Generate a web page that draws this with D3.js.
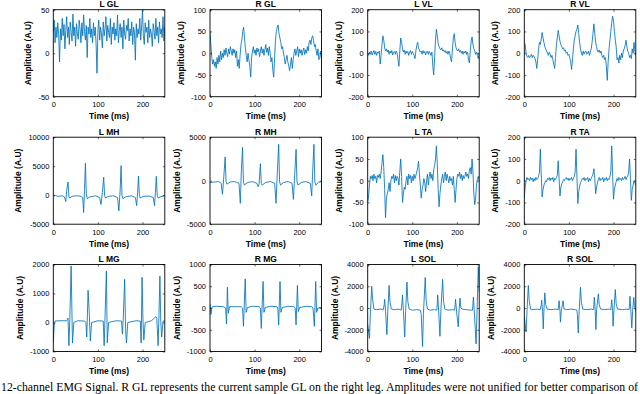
<!DOCTYPE html>
<html><head><meta charset="utf-8">
<script src="https://cdn.jsdelivr.net/npm/d3@7"></script>
<style>body{margin:0;background:#fff}svg{display:block}</style>
</head><body><svg id="c" width="640" height="394"></svg>
<script>
// ---- data (uniform series are sampled every 250/(n-1) ms; spiky series are [ms, value] pairs) ----
const titles = ["L GL","R GL","L VL","R VL","L MH","R MH","L TA","R TA","L MG","R MG","L SOL","R SOL"];
const xTicks = [0,100,200];
const yDomains = [[-50,50],[-100,100],[-200,200],[-200,200],[-5000,10000],[-5000,5000],[-100,100],[-200,200],[-1000,2000],[-1000,1000],[-4000,4000],[-4000,4000]];
const yTicks = [[-50,0,50],[-100,-50,0,50,100],[-200,-100,0,100,200],[-200,-100,0,100,200],[-5000,0,5000,10000],[-5000,0,5000],[-100,-50,0,50,100],[-200,-100,0,100,200],[-1000,0,1000,2000],[-1000,-500,0,500,1000],[-4000,-2000,0,2000,4000],[-4000,-2000,0,2000,4000]];

const lGL = [25,38,12,30,18,35,22,-10,28,15,40,20,33,5,26,42,18,30,10,36,24,14,45,20,30,8,34,22,16,38,28,12,35,20,44,25,15,32,-5,30,22,40,18,28,12,35,20,30,10,-23,26,38,15,30,22,6,36,20,28,42,14,32,24,18,40,10,30,22,35,15,28,20,44,12,26,34,18,30,5,38,22,16,32,26,40,14,28,20,36,10,30,24,-8,34,18,28,22,40,15,30,50,20,10,35,24,30,12,38,18,28,22,8,34,26,16,40,20,30,12,36,22,28,18,42,14,30];
const rGL = [48,20,-10,-25,-15,-30,-20,-35,-10,-25,-5,-20,5,-15,0,-10,8,-5,12,0,-8,10,-2,15,5,-5,10,0,8,-10,5,-30,-15,-35,-5,20,30,50,60,35,10,-5,-20,0,-15,-30,-55,-10,5,15,0,8,-5,12,3,10,-8,5,15,0,10,-5,8,20,2,12,-5,15,0,-20,-10,-40,-55,-10,30,50,60,65,45,35,25,10,15,0,-10,-25,-15,-5,-20,-30,-40,-25,-10,-35,-15,0,10,-5,5,15,-8,10,0,8,-5,5,12,-3,8,0,15,5,25,30,20,35,40,30,15,20,5,-5,10,-15,-10,5,-15];
const lVL = [0,-10,5,-5,10,-8,3,12,-5,8,-10,5,0,10,-50,-10,40,80,60,25,10,20,5,15,-5,10,0,12,-8,5,8,-5,10,0,-30,-60,10,70,50,20,5,15,-5,10,0,8,-10,5,12,-5,8,0,-10,-25,10,35,50,25,15,5,10,-5,12,0,8,-8,5,10,-5,8,0,-10,5,-60,-100,-20,60,110,80,45,30,20,15,25,10,15,5,12,0,8,-5,10,0,-25,-40,20,70,90,50,25,15,10,20,5,12,0,10,-5,8,0,10,-5,5,-30,-45,10,55,75,40,20,10,-5,5,-10,-25,0];
const rVL = [50,40,0,-15,-20,-10,-20,-15,-5,-20,-10,-15,-25,-40,-70,-30,20,50,40,65,95,70,50,30,20,10,0,-10,5,-5,-20,-10,-30,-50,-70,-20,40,70,105,80,55,40,30,20,25,10,15,0,5,-10,-5,-20,-40,-75,-30,20,60,80,100,110,130,90,50,20,0,-10,10,-5,5,10,-5,0,10,-10,5,20,50,90,135,90,50,30,10,5,15,0,10,-10,-20,-10,-30,-20,-60,-125,-40,20,60,100,140,170,150,100,60,30,-30,-20,-45,-10,-30,0,-20,10,20,35,60,30,10,0,-20,-10,-25,20,0,50,10,-10];
const lMH = [[0,-100],[5,-50],[10,-200],[20,-100],[25,-300],[28,-1100],[30,800],[33,2270],[35,-300],[37,-500],[42,-200],[50,-100],[60,-150],[66,-400],[68,-3000],[70,1000],[72,5500],[74,200],[76,-600],[82,-300],[95,-100],[104,-400],[107,-1600],[110,500],[113,3100],[115,0],[117,-500],[123,-200],[135,-100],[144,-400],[147,-2700],[150,1000],[152,5100],[154,0],[156,-600],[162,-300],[175,-100],[184,-400],[187,-1800],[189,500],[191,3300],[193,0],[195,-500],[201,-200],[215,-150],[224,-400],[227,-1800],[229,500],[231,3250],[233,0],[235,-500],[241,-250],[250,-100]];
const rMH = [[0,-200],[10,-150],[20,-100],[25,-300],[28,-1560],[31,500],[34,2730],[36,-100],[38,-400],[45,-150],[55,-100],[65,-300],[68,-2600],[70,800],[73,3830],[75,-200],[77,-500],[85,-200],[95,-100],[105,-300],[108,-700],[110,-400],[113,1950],[115,-300],[117,-500],[125,-200],[135,-100],[145,-300],[148,-2600],[151,1000],[154,4180],[156,-100],[158,-500],[165,-200],[175,-100],[184,-300],[187,-2150],[190,800],[193,3600],[195,-100],[197,-500],[205,-200],[215,-100],[225,-300],[228,-1760],[230,800],[233,4180],[235,-100],[237,-500],[243,-200],[250,-100]];
const lTA = [-50,-35,-10,10,5,12,0,15,5,10,-5,12,8,15,5,20,40,60,30,-20,-85,-40,-30,-20,-5,-25,0,10,5,15,-5,12,0,10,5,-10,20,50,10,-50,-30,-15,-20,0,10,-10,15,5,12,-5,10,0,15,5,12,20,30,45,15,-10,-40,-20,-10,5,-5,-25,0,15,-10,10,20,5,15,0,25,35,50,80,40,-20,-60,-30,-10,5,15,-5,10,20,0,15,5,-5,10,0,5,-10,10,-20,-50,-20,5,15,10,20,5,15,0,12,5,10,20,10,15,5,25,30,15,50,20,-30,-55,-40,-10,5,10,0];
const rTA = [-80,-30,0,15,5,10,0,15,5,12,-5,10,0,15,5,10,20,40,145,30,-75,-40,-20,-10,0,-5,10,5,15,0,12,5,15,-5,10,5,15,25,92,10,-70,-30,-15,-5,5,0,10,15,5,12,0,10,5,15,0,10,20,40,145,20,-105,-50,-25,-10,0,10,5,15,0,10,5,15,-5,10,0,10,20,30,55,10,-60,-30,-10,5,15,0,10,5,15,-5,10,5,15,0,10,5,20,40,160,30,-85,-40,-20,-5,10,0,15,5,10,0,15,5,10,20,5,15,20,40,100,10,-90,-40,-20,0,-10,-20];
const lMG = [[0,-700],[2,-100],[4,50],[15,60],[30,60],[33,150],[35,-800],[37,100],[40,1950],[43,-710],[46,0],[55,60],[70,50],[73,0],[75,-500],[78,1110],[81,200],[83,-640],[86,0],[100,60],[112,50],[114,-800],[116,200],[119,1770],[121,-700],[124,0],[140,60],[153,50],[155,-400],[157,200],[160,1490],[162,-200],[164,-710],[167,0],[185,60],[195,50],[197,-710],[199,1560],[201,100],[203,-600],[206,0],[220,60],[230,200],[232,150],[235,-800],[237,300],[239,1600],[241,0],[243,-500],[246,50],[250,60]];
const rMG = [[0,100],[2,-150],[5,30],[15,40],[30,30],[35,0],[37,-370],[39,480],[41,-120],[44,30],[55,30],[70,30],[73,0],[75,-420],[79,670],[81,-100],[84,10],[95,40],[110,30],[113,0],[115,-470],[119,610],[121,-100],[124,10],[135,40],[150,30],[152,0],[154,-390],[157,610],[159,-100],[162,10],[175,40],[188,30],[191,0],[193,-390],[196,520],[198,-80],[201,10],[215,40],[228,30],[231,0],[234,-420],[237,610],[239,-100],[242,0],[250,20]];
const lSOL = [[0,-1500],[2,-2200],[4,-2800],[6,-500],[9,2000],[11,800],[14,-100],[20,-150],[30,-100],[35,-150],[37,300],[38,800],[40,-300],[43,-2450],[45,-300],[48,2080],[50,500],[53,-100],[60,-150],[70,-100],[75,-200],[77,500],[78,1200],[80,-200],[83,-2670],[85,-300],[88,2390],[90,600],[93,-100],[100,-200],[110,-150],[118,-200],[120,-600],[123,-3550],[125,-500],[129,2800],[131,700],[134,-100],[140,-200],[150,-150],[155,-200],[156,500],[157,1200],[159,-200],[162,-2600],[164,-300],[168,2640],[170,600],[173,-100],[180,-200],[190,-150],[195,-200],[196,300],[197,800],[199,-200],[203,-1740],[205,-100],[207,900],[209,0],[212,-100],[220,-150],[230,-200],[235,-200],[236,400],[237,1000],[239,-300],[243,-3300],[245,-500],[248,3800],[250,1500]];
const rSOL = [[0,-800],[2,-1500],[4,-2200],[6,-300],[9,2080],[11,700],[14,-100],[20,-150],[30,-100],[36,-150],[38,300],[39,730],[41,-300],[42.5,-1920],[44,-200],[46,1390],[48,300],[51,-100],[60,-150],[70,-100],[76,-150],[77,300],[78,670],[80,-300],[81,-1300],[83,-200],[87,670],[89,-100],[95,-150],[105,-100],[115,-150],[118,-200],[119,-600],[121,-2300],[123,-300],[126,1920],[128,500],[131,-100],[140,-150],[150,-100],[155,-150],[156,300],[157,980],[159,-300],[160.5,-1980],[162,-200],[166,1300],[168,300],[171,-100],[180,-150],[190,-100],[194,-150],[195,300],[196,760],[198,-300],[199,-1670],[201,-200],[204,1700],[206,400],[209,-100],[220,-150],[230,-100],[235,-150],[236,400],[237,1080],[239,-300],[241,-1830],[243,-200],[245.5,980],[247,200],[250,-300]];
const series = [lGL,rGL,lVL,rVL,lMH,rMH,lTA,rTA,lMG,rMG,lSOL,rSOL];
const caption = "12-channel EMG Signal. R GL represents the current sample GL on the right leg. Amplitudes were not unified for better comparison of";

// ---- layout ----
const colLeft = [53.3, 210, 367.7, 524.3];
const rowTop = [9.7, 137.2, 264.5];
const W = 111.5, H = 87;
const FONT = "'Liberation Sans', Arial, Helvetica, sans-serif";
const BLUE = "#0072BD";

const svg = d3.select("#c");
svg.append("rect").attr("width",640).attr("height",394).attr("fill","#fff");
const defs = svg.append("defs");

function toPoints(arr){
  if (typeof arr[0] === "number"){
    const step = 250/(arr.length-1);
    return arr.map((v,i)=>[i*step, v]);
  }
  return arr;
}

series.forEach((ser, k) => {
  const r = Math.floor(k/4), c = k%4;
  const left = colLeft[c], top = rowTop[r];
  const x = d3.scaleLinear().domain([0,250]).range([0, W]);
  const y = d3.scaleLinear().domain(yDomains[k]).range([H, 0]);
  const g = svg.append("g").attr("transform", `translate(${left},${top})`);

  defs.append("clipPath").attr("id","cp"+k).append("rect").attr("width",W).attr("height",H);

  const line = d3.line().x(d=>x(d[0])).y(d=>y(d[1]));
  g.append("path").attr("clip-path",`url(#cp${k})`)
    .datum(toPoints(ser)).attr("d", line)
    .attr("fill","none").attr("stroke",BLUE).attr("stroke-width",0.85).attr("stroke-linejoin","round");

  const fmt = d => String(d);
  const ax = [
    g.append("g").attr("transform",`translate(0,${H})`).call(d3.axisBottom(x).tickValues(xTicks).tickFormat(fmt).tickSizeInner(-2).tickSizeOuter(0).tickPadding(5)),
    g.append("g").call(d3.axisTop(x).tickValues(xTicks).tickFormat("").tickSizeInner(-2).tickSizeOuter(0)),
    g.append("g").call(d3.axisLeft(y).tickValues(yTicks[k]).tickFormat(fmt).tickSizeInner(-2).tickSizeOuter(0).tickPadding(4)),
    g.append("g").attr("transform",`translate(${W},0)`).call(d3.axisRight(y).tickValues(yTicks[k]).tickFormat("").tickSizeInner(-2).tickSizeOuter(0))
  ];
  ax.forEach(a => {
    a.select(".domain").remove();
    a.selectAll("line").attr("stroke","#000").attr("stroke-width",0.6);
    a.selectAll("text").attr("font-family",FONT).attr("font-size",7.5).attr("fill","#000");
  });
  g.append("rect").attr("width",W).attr("height",H).attr("fill","none").attr("stroke","#000").attr("stroke-width",0.9);

  // y label position from tick label widths
  let maxW = 0;
  ax[2].selectAll("text").each(function(){ maxW = Math.max(maxW, this.getComputedTextLength()); });

  g.append("text").attr("x", W/2).attr("y", -2.5).attr("text-anchor","middle")
    .attr("font-family",FONT).attr("font-weight","bold").attr("font-size",8.5).text(titles[k]);
  g.append("text").attr("x", W/2).attr("y", H+22.5).attr("text-anchor","middle")
    .attr("font-family",FONT).attr("font-weight","bold").attr("font-size",8.5).text("Time (ms)");
  g.append("text").attr("transform",`translate(${-maxW-11},${H/2}) rotate(-90)`).attr("text-anchor","middle")
    .attr("font-family",FONT).attr("font-weight","bold").attr("font-size",8.5).text("Amplitude (A.U)");
});

svg.append("text").attr("x",1).attr("y",391).attr("textLength",637).attr("lengthAdjust","spacingAndGlyphs")
  .attr("font-family","'Liberation Serif', 'Times New Roman', serif").attr("font-size",11.5).attr("fill","#000")
  .text(caption);
</script>
</body></html>
